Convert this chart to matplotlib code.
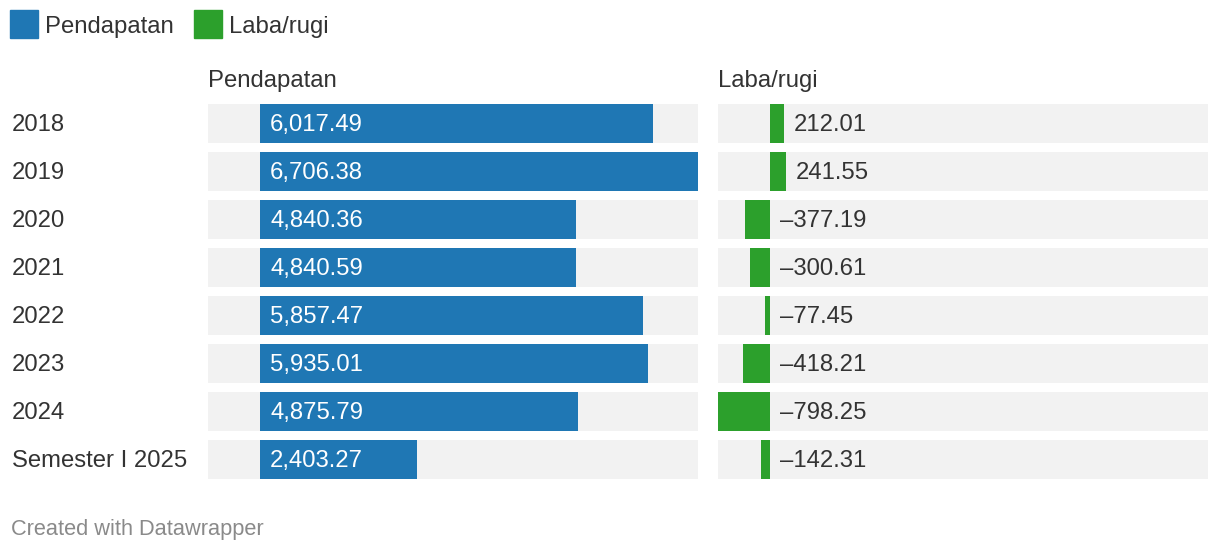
import matplotlib
matplotlib.use("Agg")
import matplotlib.pyplot as plt
from matplotlib.patches import Rectangle

categories = ["2018", "2019", "2020", "2021", "2022", "2023", "2024", "Semester I 2025"]
pendapatan = [6017.49, 6706.38, 4840.36, 4840.59, 5857.47, 5935.01, 4875.79, 2403.27]
laba_rugi = [212.01, 241.55, -377.19, -300.61, -77.45, -418.21, -798.25, -142.31]
series_names = ["Pendapatan", "Laba/rugi"]

BLUE = "#1f77b4"
GREEN = "#2ca02c"
BG = "#f2f2f2"
TXT = "#333333"
FONT = "Liberation Sans"
FS = 17.2

W, H = 1220, 552
fig = plt.figure(figsize=(W / 100, H / 100), dpi=100)
plt.rcParams['font.family'] = [FONT, 'DejaVu Sans']

n = len(categories)
row_px = 48
bar_px = 39.5
h = bar_px / row_px
top_px = 103.8
ax_h_px = (n - 1 + h) * row_px
DY = 1.5  # text vertical nudge (px, downward)

xmin = min(min(pendapatan), min(laba_rugi))
xmax = max(max(pendapatan), max(laba_rugi))

def fmt(v):
    s = f"{abs(v):,.2f}"
    return ("\u2013" + s) if v < 0 else s

def make_ax(x0_px, w_px):
    ax = fig.add_axes([x0_px / W, 1 - (top_px + ax_h_px) / H, w_px / W, ax_h_px / H])
    ax.set_xlim(xmin, xmax)
    ax.set_ylim(n - 1 + h / 2, -h / 2)
    ax.axis("off")
    return ax

axL = make_ax(208, 490)
axR = make_ax(718, 490)
ys = list(range(n))

for ax in (axL, axR):
    ax.barh(ys, [xmax - xmin] * n, left=xmin, height=h, color=BG, zorder=1)

axL.barh(ys, pendapatan, height=h, color=BLUE, zorder=2)
axR.barh(ys, laba_rugi, height=h, color=GREEN, zorder=2)

for y, v in zip(ys, pendapatan):
    axL.annotate(fmt(v), (0, y), xytext=(10, -DY), textcoords="offset pixels",
                 ha="left", va="center", color="white", fontsize=FS, zorder=3)
for y, v in zip(ys, laba_rugi):
    axR.annotate(fmt(v), (max(v, 0), y), xytext=(10, -DY), textcoords="offset pixels",
                 ha="left", va="center", color=TXT, fontsize=FS, zorder=3)

# category labels
for i, c in enumerate(categories):
    yc = top_px + i * row_px + bar_px / 2 + DY
    fig.text(12 / W, 1 - yc / H, c, ha="left", va="center", color=TXT, fontsize=FS)

# column titles
fig.text(208 / W, 1 - 81 / H, series_names[0], ha="left", va="center", color=TXT, fontsize=FS)
fig.text(718 / W, 1 - 81 / H, series_names[1], ha="left", va="center", color=TXT, fontsize=FS)

# legend
for x0, col, name in [(10, BLUE, series_names[0]), (194, GREEN, series_names[1])]:
    fig.patches.append(Rectangle((x0 / W, 1 - 38 / H), 28 / W, 28 / H,
                                 transform=fig.transFigure, color=col, figure=fig))
    fig.text((x0 + 35) / W, 1 - 26.5 / H, name, ha="left", va="center", color=TXT, fontsize=FS)

fig.text(11 / W, 1 - 529.5 / H, "Created with Datawrapper", ha="left", va="center",
         color="#8a8a8a", fontsize=15.7)

fig.savefig("out.png", dpi=100)
